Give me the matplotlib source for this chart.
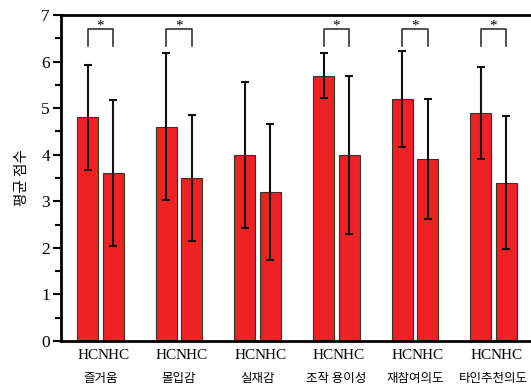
import numpy as np
import matplotlib.pyplot as plt
from matplotlib.ticker import MultipleLocator

# 데이터
categories = ['즐거움', '몰입감', '실재감', '조작 용이성', '재참여의도', '타인추천의도']
hc_mean = [4.8, 4.6, 4.0, 5.7, 5.2, 4.9]
hc_err = [1.13, 1.58, 1.57, 0.48, 1.03, 0.99]
nhc_mean = [3.6, 3.5, 3.2, 4.0, 3.9, 3.4]
nhc_err = [1.57, 1.35, 1.47, 1.70, 1.29, 1.43]
significant = [True, True, False, True, True, True]
sub_labels = ['HC', 'NHC']

serif = 'Liberation Serif'
kr = ['Noto Sans CJK KR', 'DejaVu Sans']

fig = plt.figure(figsize=(5.31, 3.89), dpi=100)
ax = fig.add_axes([0.1149, 0.1234, 0.885, 0.838])

x = np.arange(len(categories))
off = 0.162
w = 0.267
bar_kw = dict(width=w, color='#ee2222', edgecolor='#333333', linewidth=0.8,
              error_kw=dict(ecolor='#111111', elinewidth=1.5, capsize=2.8, capthick=1.5))
ax.bar(x - off, hc_mean, yerr=hc_err, **bar_kw)
ax.bar(x + off, nhc_mean, yerr=nhc_err, **bar_kw)

# 유의성 표시
for i, sig in enumerate(significant):
    if not sig:
        continue
    ax.plot([i - off, i - off, i + off, i + off], [6.34, 6.7, 6.7, 6.34],
            color='#333333', lw=1.2)
    ax.text(i, 6.62, '*', ha='center', va='bottom', fontsize=11, family=serif)

ax.set_xlim(-0.503, 5.477)
ax.set_ylim(0, 7)
ax.yaxis.set_major_locator(MultipleLocator(1))
ax.yaxis.set_minor_locator(MultipleLocator(0.5))
ax.tick_params(axis='y', which='major', length=6, width=1.5, labelsize=12.5, pad=2)
ax.tick_params(axis='y', which='minor', length=4, width=1.5)
for lab in ax.get_yticklabels():
    lab.set_family(serif)

ticks = np.concatenate([x - off, x + off])
labels = [sub_labels[0]] * len(x) + [sub_labels[1]] * len(x)
ax.set_xticks(ticks)
ax.set_xticklabels(labels, family=serif, fontsize=11)
ax.tick_params(axis='x', length=0, pad=6)

for i, c in enumerate(categories):
    ax.text(i, -0.8, c, ha='center', va='center', fontsize=9, family=kr,
            clip_on=False)

ax.set_ylabel('평균 점수', family=kr, fontsize=10.5, labelpad=9)

ax.spines['right'].set_visible(False)
ax.spines['top'].set_linewidth(2)
ax.spines['left'].set_linewidth(2)
ax.spines['bottom'].set_linewidth(2)

fig.savefig('out.png', dpi=100)
